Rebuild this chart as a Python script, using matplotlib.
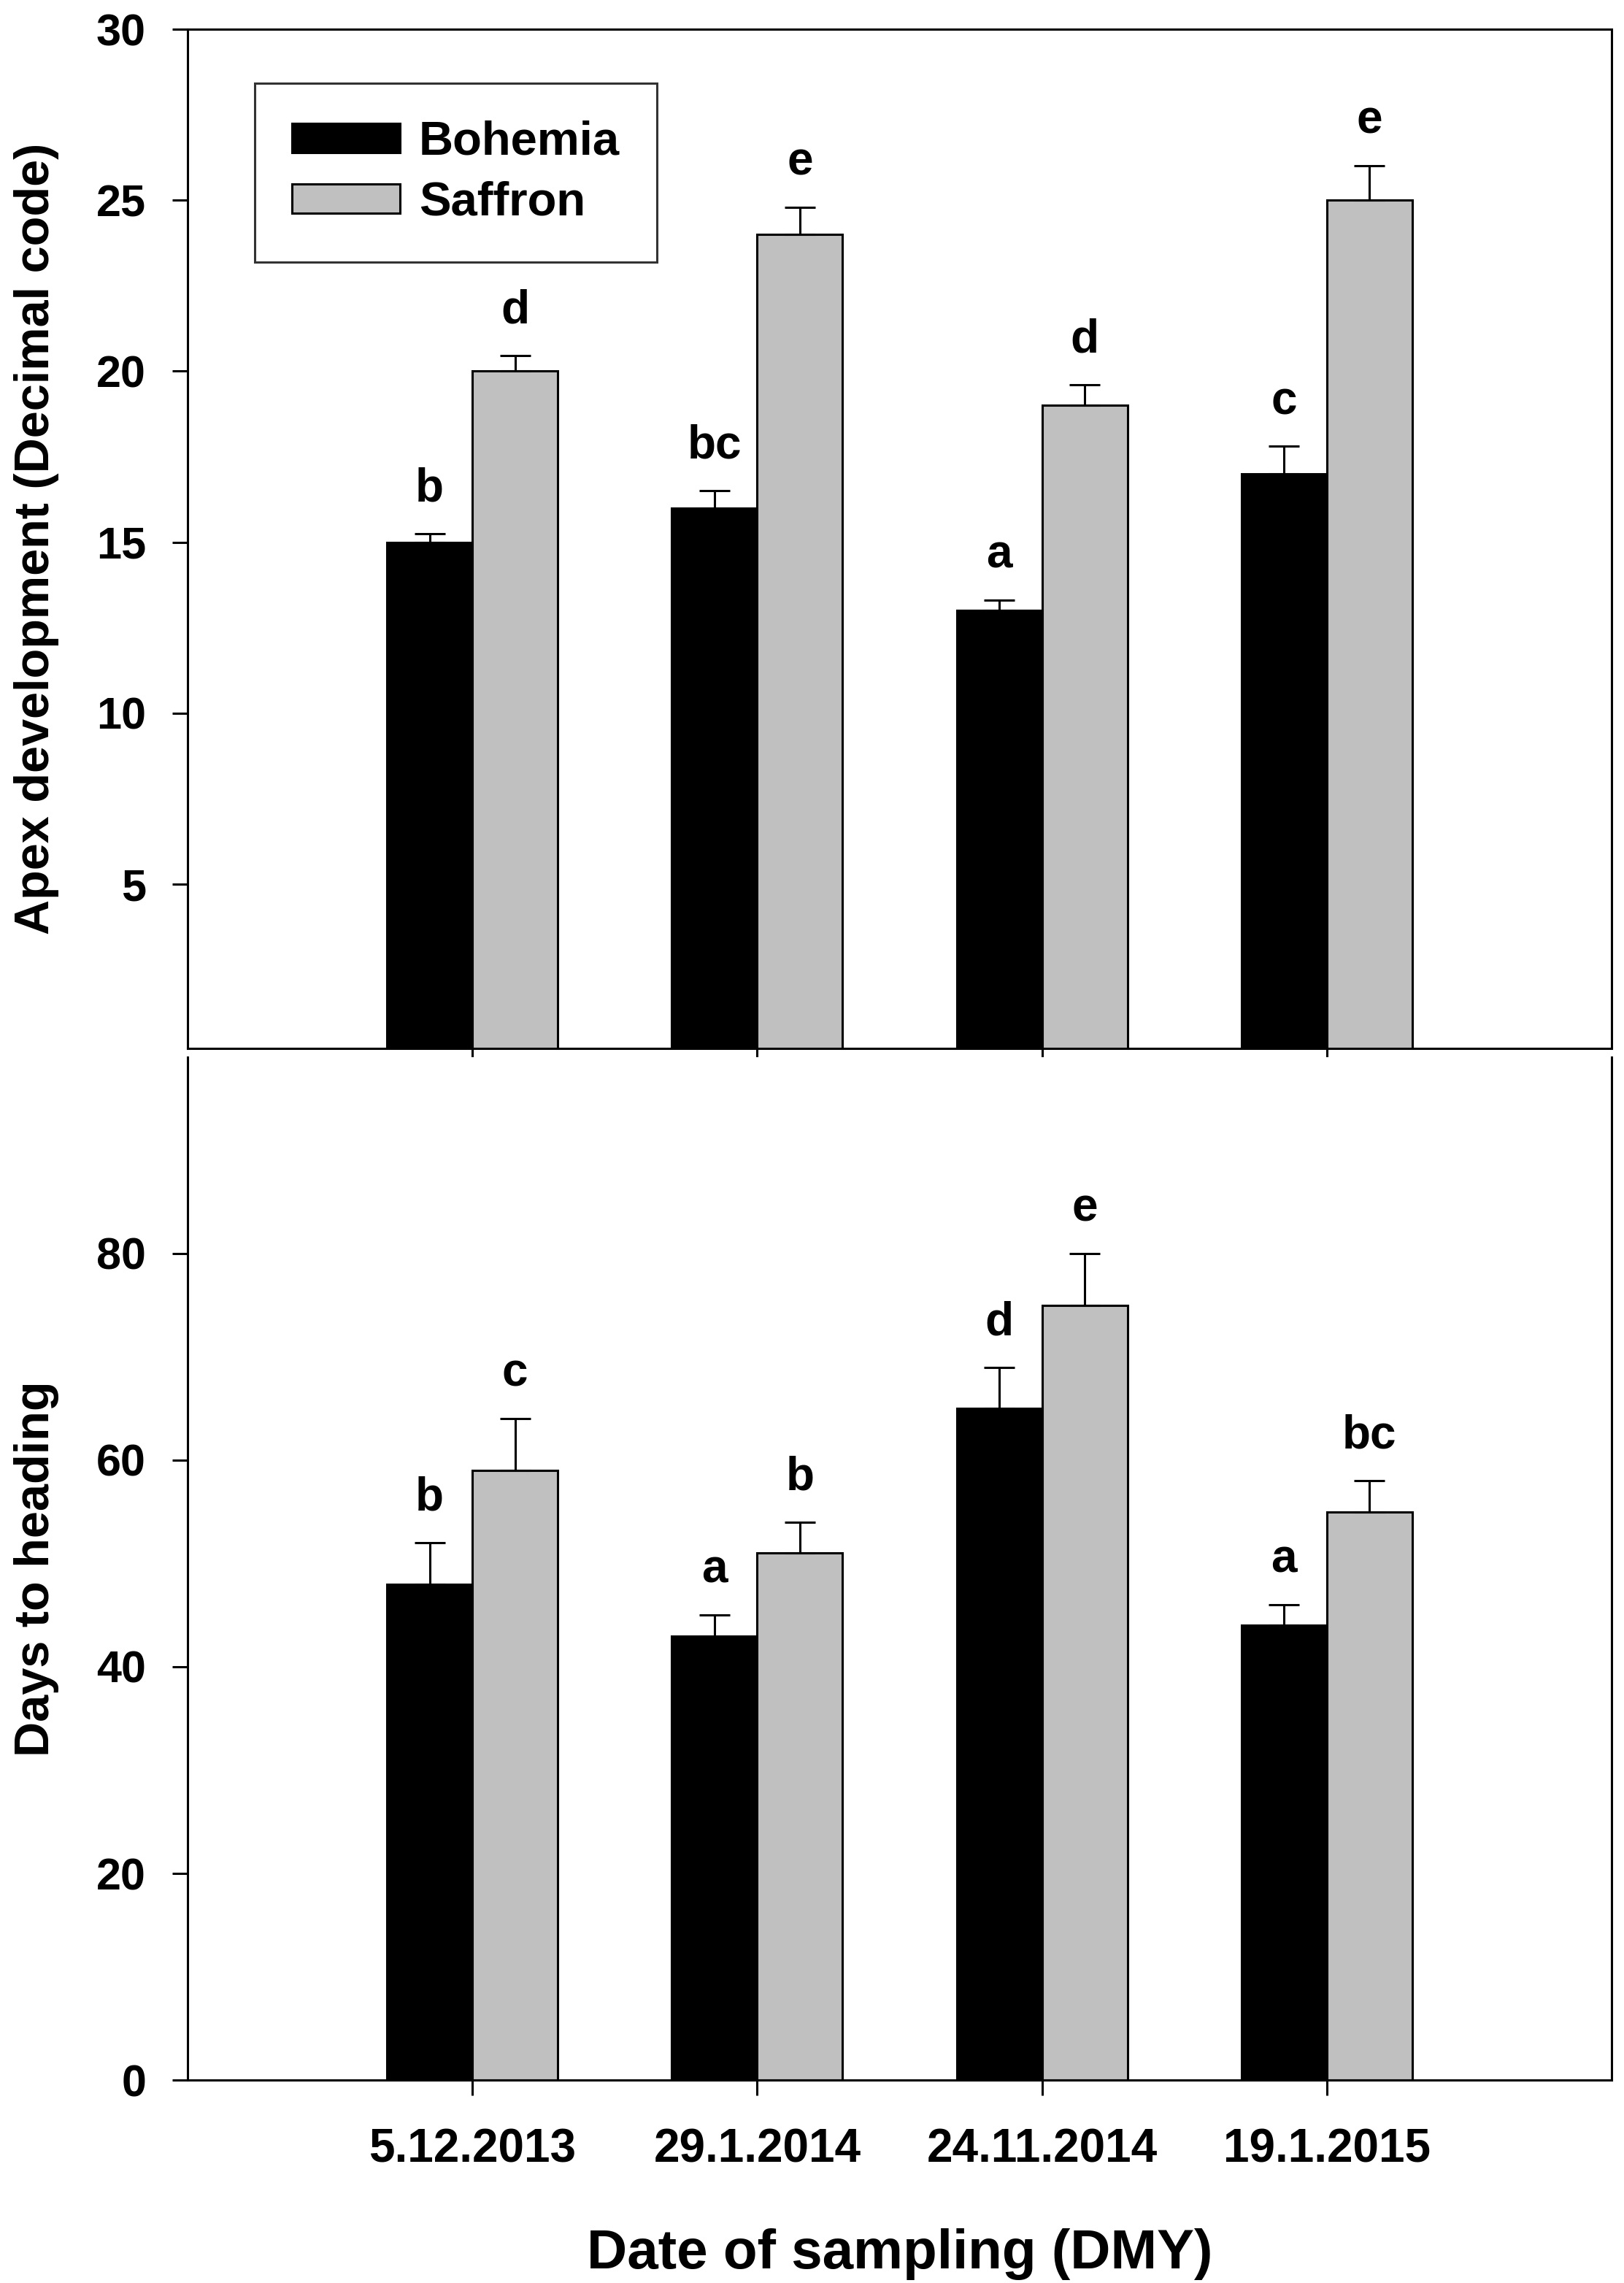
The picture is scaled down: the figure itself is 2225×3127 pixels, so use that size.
import numpy as np
import matplotlib
matplotlib.use("Agg")
import matplotlib.pyplot as plt


# sampling dates (DMY) and cultivars
dates = ["5.12.2013", "29.1.2014", "24.11.2014", "19.1.2015"]
cultivars = ["Bohemia", "Saffron"]

# apex development (decimal code)
apex_bohemia = [15, 16, 13, 17]
apex_bohemia_err = [0.25, 0.5, 0.3, 0.8]
apex_saffron = [20, 24, 19, 25]
apex_saffron_err = [0.45, 0.8, 0.6, 1.0]
apex_letters_bohemia = ["b", "bc", "a", "c"]
apex_letters_saffron = ["d", "e", "d", "e"]

# days to heading
days_bohemia = [48, 43, 65, 44]
days_bohemia_err = [4, 2, 4, 2]
days_saffron = [59, 51, 75, 55]
days_saffron_err = [5, 3, 5, 3]
days_letters_bohemia = ["b", "a", "d", "a"]
days_letters_saffron = ["c", "b", "e", "bc"]

BAR_W = 0.3
LW = 1.1
COLORS = ["black", "#c0c0c0"]

plt.rcParams["font.family"] = ["Liberation Sans", "DejaVu Sans"]
plt.rcParams["font.weight"] = "bold"
plt.rcParams["axes.labelweight"] = "bold"
plt.rcParams["axes.linewidth"] = LW


# draws the two bars per date with upper error bars and letters above
def draw_bars(ax, series, errs, letters):
    x = np.arange(len(dates))
    offsets = [-BAR_W / 2, BAR_W / 2]
    for i in range(2):
        xs = x + offsets[i]
        ax.bar(xs, series[i], BAR_W, color=COLORS[i], edgecolor="black",
               linewidth=LW, label=cultivars[i], zorder=2)
        ax.errorbar(xs, series[i], yerr=[np.zeros(len(dates)), errs[i]],
                    fmt="none", ecolor="black", elinewidth=LW, capsize=7.5,
                    capthick=LW, zorder=3)
        for xi, top, lab in zip(xs, np.array(series[i]) + np.array(errs[i]), letters[i]):
            ax.annotate(lab, (xi, top), xytext=(0, 16), textcoords="offset points",
                        ha="center", va="baseline", fontsize=23, fontweight="bold")
    ax.set_xlim(-1, 4)
    ax.set_xticks(x)
    ax.tick_params(axis="both", direction="out", length=7.5, width=LW,
                   labelsize=22, pad=13)
    ax.tick_params(axis="x", pad=16, labelsize=23)
    ax.yaxis.set_label_coords(-0.09, 0.5)


fig = plt.figure(figsize=(2225 / 200, 3127 / 200), dpi=200)
ax1 = fig.add_axes([0.1155, 0.5408, 0.8769, 0.4464])
ax2 = fig.add_axes([0.1155, 0.0889, 0.8769, 0.4480])

draw_bars(ax1, [apex_bohemia, apex_saffron], [apex_bohemia_err, apex_saffron_err],
          [apex_letters_bohemia, apex_letters_saffron])
ax1.set_ylim(0.2, 30)
ax1.set_yticks([5, 10, 15, 20, 25, 30])
ax1.set_xticklabels([])
ax1.set_ylabel("Apex development (Decimal code)", fontsize=24)
leg = ax1.legend(loc="upper left", bbox_to_anchor=(0.047, 0.947), fontsize=23.5,
                 frameon=True, fancybox=False, handlelength=2.27, handleheight=0.56,
                 handletextpad=0.4, borderpad=0.78, labelspacing=0.35,
                 borderaxespad=0)
leg.get_frame().set_edgecolor("black")
leg.get_frame().set_linewidth(LW)
for t in leg.get_texts():
    t.set_fontweight("bold")

draw_bars(ax2, [days_bohemia, days_saffron], [days_bohemia_err, days_saffron_err],
          [days_letters_bohemia, days_letters_saffron])
ax2.set_ylim(0, 99)
ax2.set_yticks([0, 20, 40, 60, 80])
ax2.spines["top"].set_visible(False)
ax2.set_xticklabels(dates, fontweight="bold")
ax2.set_ylabel("Days to heading", fontsize=24)
ax2.set_xlabel("Date of sampling (DMY)", fontsize=27.5, labelpad=28)

fig.savefig("out.png", dpi=200, facecolor="white")
